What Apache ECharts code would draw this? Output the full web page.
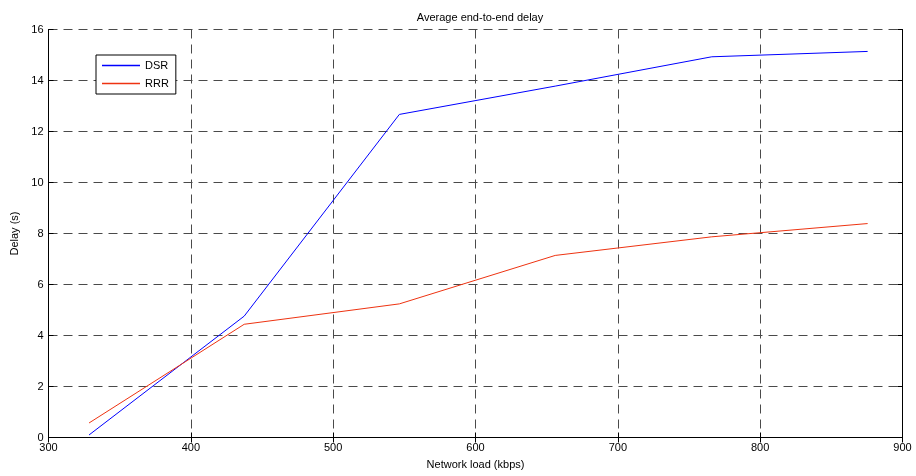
<!DOCTYPE html>
<html>
<head>
<meta charset="utf-8">
<script src="https://cdn.jsdelivr.net/npm/echarts@6/dist/echarts.min.js"></script>
<style>
  html, body { margin: 0; padding: 0; background: #fff; }
  #chart { width: 916px; height: 476px; }
</style>
</head>
<body>
<div id="chart"></div>
<script>
// Network load (kbps) at each simulation run
const loads = [328.5, 437.5, 546.5, 656, 766, 875.5];
// Average end-to-end delay (s) per protocol
const dsrDelay = [0.1, 4.76, 12.67, 13.78, 14.93, 15.14];
const rrrDelay = [0.57, 4.44, 5.24, 7.14, 7.87, 8.39];
// Axis ticks
const xTicks = [300, 400, 500, 600, 700, 800, 900];
const yTicks = [0, 2, 4, 6, 8, 10, 12, 14, 16];

const FONT = 'Liberation Sans, Arial, sans-serif';
const DSR_COLOR = '#0000ff';
const RRR_COLOR = '#ee3311';
const pair = (xs, ys) => xs.map((x, i) => [x, ys[i]]);

const gridLine = { show: true, lineStyle: { color: '#4a4a4a', width: 1, type: [9, 6] } };
const axisLine = { show: true, lineStyle: { color: '#000', width: 1 } };
const innerTick = { show: true, inside: true, length: 5, lineStyle: { color: '#000' } };

// Legend key: a plain horizontal stroke in the series colour
const legendKey = color => ({
  icon: 'path://M0,0 L38,0 L38,1.4 L0,1.4 Z',
  itemStyle: { color: color, borderWidth: 0, opacity: 1 },
  lineStyle: { width: 0 }
});

const chart = echarts.init(document.getElementById('chart'), null, { renderer: 'canvas' });
chart.setOption({
  animation: false,
  backgroundColor: '#fff',
  color: [DSR_COLOR, RRR_COLOR],
  title: {
    text: 'Average end-to-end delay',
    left: 475, top: 7, textAlign: 'center',
    textStyle: { fontFamily: FONT, fontSize: 11, fontWeight: 'normal', color: '#000' }
  },
  grid: { left: 48.5, right: 13.5, top: 29.5, bottom: 38.5, containLabel: false },
  legend: {
    orient: 'vertical',
    left: 96, top: 55,
    padding: [5, 7, 5, 6],
    itemGap: 7,
    itemWidth: 38, itemHeight: 1.4,
    borderColor: '#000', borderWidth: 1,
    backgroundColor: '#fff',
    textStyle: { fontFamily: FONT, fontSize: 11, color: '#000' },
    data: [
      Object.assign(legendKey(DSR_COLOR), { name: 'DSR' }),
      Object.assign(legendKey(RRR_COLOR), { name: 'RRR' })
    ]
  },
  xAxis: [{
    type: 'value', min: 300, max: 900, interval: 100,
    name: 'Network load (kbps)', nameLocation: 'middle', nameGap: 22,
    nameTextStyle: { fontFamily: FONT, fontSize: 11, color: '#000' },
    axisLine: axisLine,
    axisTick: innerTick,
    axisLabel: { fontFamily: FONT, fontSize: 11, color: '#000', margin: 5,
      formatter: v => xTicks.includes(v) ? String(v) : '' },
    splitLine: gridLine
  }, {
    type: 'value', position: 'top', min: 300, max: 900, interval: 100,
    axisLine: axisLine, axisTick: innerTick,
    axisLabel: { show: false }, splitLine: { show: false }
  }],
  yAxis: [{
    type: 'value', min: 0, max: 16, interval: 2,
    name: 'Delay (s)', nameLocation: 'middle', nameGap: 27, nameRotate: 90,
    nameTextStyle: { fontFamily: FONT, fontSize: 11, color: '#000' },
    axisLine: axisLine,
    axisTick: innerTick,
    axisLabel: { fontFamily: FONT, fontSize: 11, color: '#000', margin: 5,
      formatter: v => yTicks.includes(v) ? String(v) : '' },
    splitLine: gridLine
  }, {
    type: 'value', position: 'right', min: 0, max: 16, interval: 2,
    axisLine: axisLine, axisTick: innerTick,
    axisLabel: { show: false }, splitLine: { show: false }
  }],
  series: [{
    name: 'DSR', type: 'line', data: pair(loads, dsrDelay),
    symbol: 'none', smooth: false, color: DSR_COLOR,
    lineStyle: { color: DSR_COLOR, width: 1 }
  }, {
    name: 'RRR', type: 'line', data: pair(loads, rrrDelay),
    symbol: 'none', smooth: false, color: RRR_COLOR,
    lineStyle: { color: RRR_COLOR, width: 1 }
  }]
});
</script>
</body>
</html>
